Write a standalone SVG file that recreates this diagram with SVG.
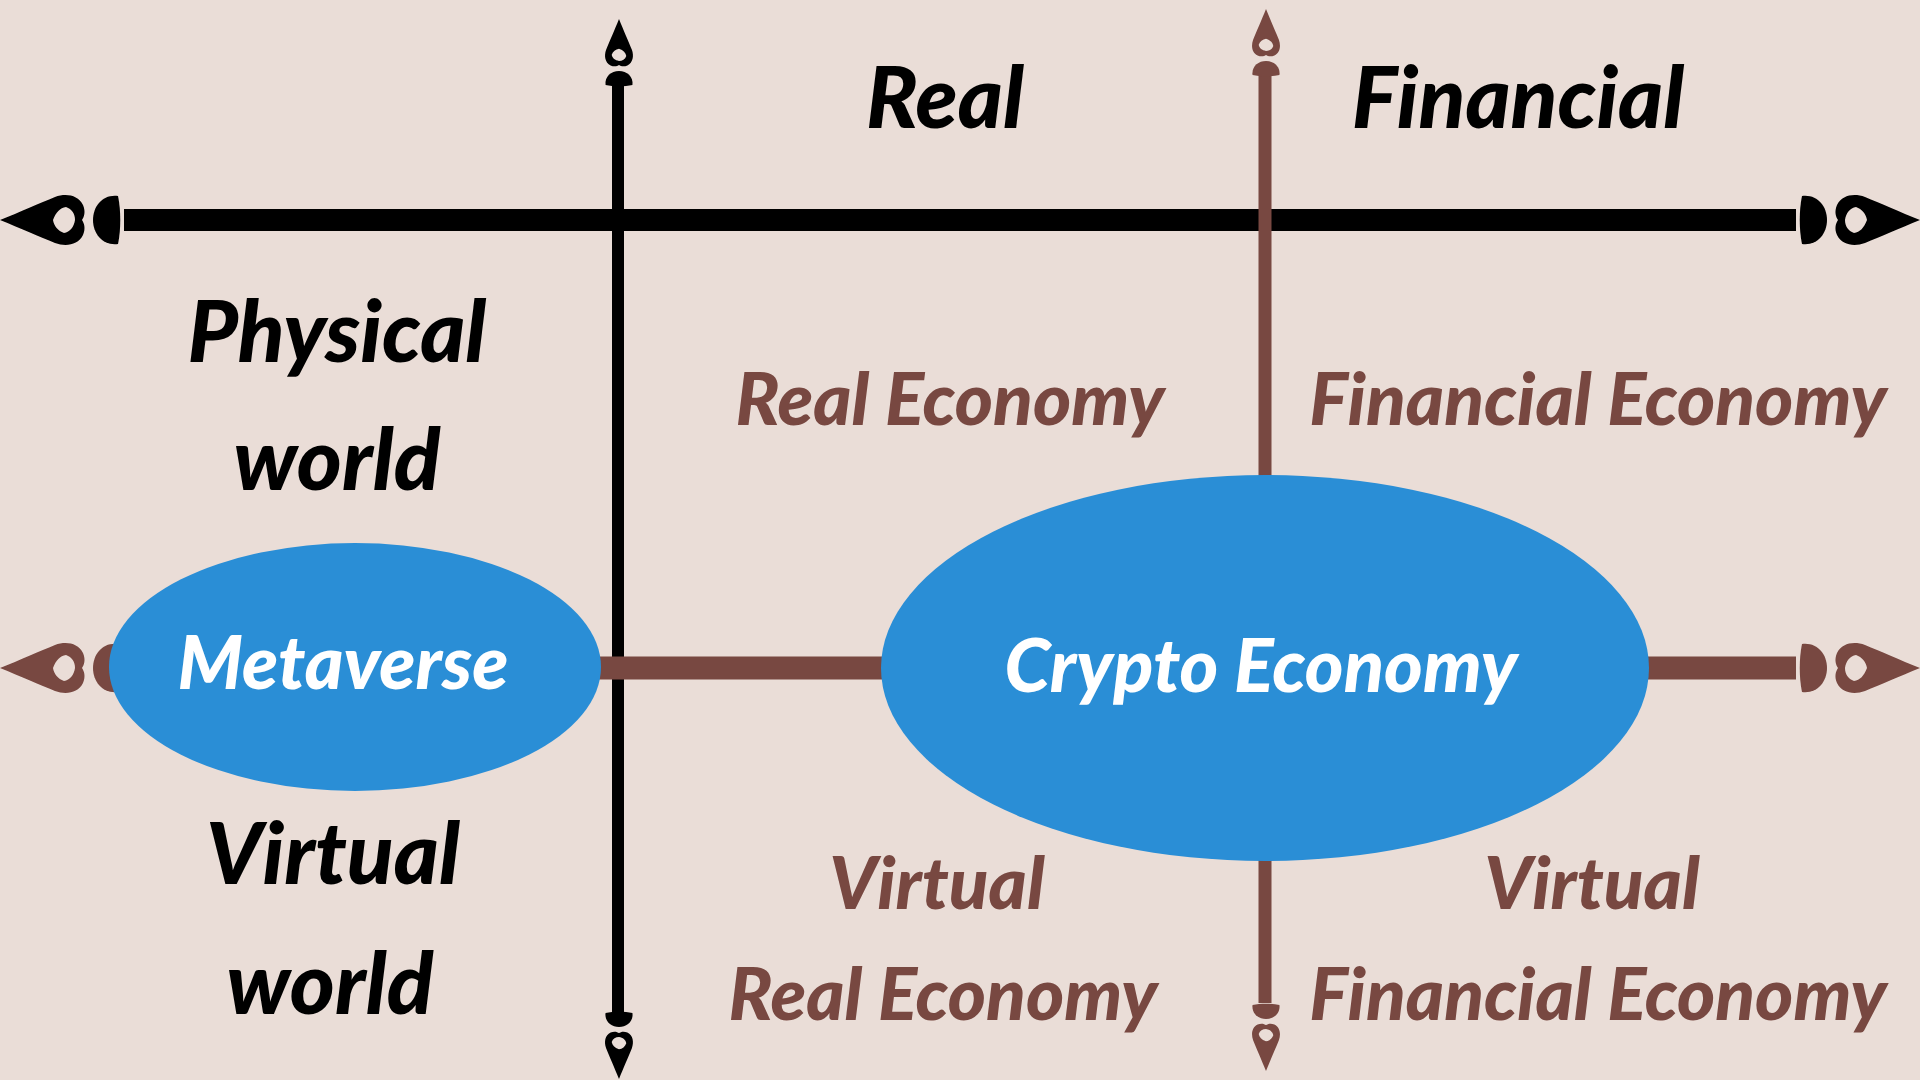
<svg xmlns="http://www.w3.org/2000/svg" xmlns:xlink="http://www.w3.org/1999/xlink" width="1920" height="1080" viewBox="0 0 1920 1080">
<defs>
<style>
.bg{fill:#EADDD7}
.blk{fill:#000000}
.brn{fill:#784841}
.lblk{stroke:#000000;fill:none}
.lbrn{stroke:#784841;fill:none}
.ell{fill:#2A8ED6}
text{font-family:"Lato","DejaVu Sans",sans-serif;font-weight:900;font-style:italic;text-anchor:middle}
.tb{fill:#000000;font-size:86px}
.tr{fill:#784841;font-size:73px}
.tw{fill:#FFFFFF;font-size:74px}
</style>
<symbol id="head" overflow="visible">
<path fill-rule="evenodd" d="M0,0 C20,-8 40,-17 55,-23 C66,-27 78,-25 83,-15 C86,-8 84,-3 82,0 C84,3 86,8 83,15 C78,25 66,27 55,23 C40,17 20,8 0,0 Z M53,0 C56,-8 60,-12 66,-13 C72,-11 75,-6 75,0 C74,7 70,12 64,13 C58,11 54,6 53,0 Z"/>
<path d="M118,-24 C103,-26 93,-14 93,0 C93,14 103,26 118,24 C121,10 121,-10 118,-24 Z"/>
</symbol>
</defs>
<rect class="bg" x="0" y="0" width="1920" height="1080"/>
<g id="connectors">
<line class="lblk" x1="124" y1="220" x2="1796" y2="220" stroke-width="22"/>
<line class="lblk" x1="618" y1="86" x2="618" y2="1012" stroke-width="12"/>
<line class="lbrn" x1="124" y1="668" x2="1796" y2="668" stroke-width="23"/>
<line class="lbrn" x1="1265" y1="76" x2="1265" y2="1003" stroke-width="13"/>
<use class="blk" xlink:href="#head" href="#head" transform="translate(0,220)"/>
<use class="blk" xlink:href="#head" href="#head" transform="translate(1920,220) rotate(180)"/>
<use class="blk" xlink:href="#head" href="#head" transform="translate(619,19) rotate(90) scale(0.56)"/>
<use class="blk" xlink:href="#head" href="#head" transform="translate(619,1079) rotate(-90) scale(0.56)"/>
<use class="brn" xlink:href="#head" href="#head" transform="translate(0,668)"/>
<use class="brn" xlink:href="#head" href="#head" transform="translate(1920,668) rotate(180)"/>
<use class="brn" xlink:href="#head" href="#head" transform="translate(1266,9) rotate(90) scale(0.56)"/>
<use class="brn" xlink:href="#head" href="#head" transform="translate(1266,1071) rotate(-90) scale(0.56)"/>
</g>
<g id="metaverse">
<ellipse class="ell" cx="355" cy="667" rx="246" ry="124"/>
<text class="tw" x="343" y="689">Metaverse</text>
</g>
<g id="crypto-economy">
<ellipse class="ell" cx="1265" cy="668" rx="384" ry="193"/>
<text class="tw" x="1261" y="692">Crypto Economy</text>
</g>
<g id="label-real"><text class="tb" x="945" y="128">Real</text></g>
<g id="label-financial"><text class="tb" x="1518" y="128">Financial</text></g>
<g id="label-physical-world">
<text class="tb" x="337" y="362">Physical</text>
<text class="tb" x="337" y="490">world</text>
</g>
<g id="label-virtual-world">
<text class="tb" x="333" y="884">Virtual</text>
<text class="tb" x="330" y="1014">world</text>
</g>
<g id="real-economy"><text class="tr" x="950" y="425">Real Economy</text></g>
<g id="financial-economy"><text class="tr" x="1598" y="425">Financial Economy</text></g>
<g id="virtual-real-economy">
<text class="tr" x="937" y="909">Virtual</text>
<text class="tr" x="943" y="1020">Real Economy</text>
</g>
<g id="virtual-financial-economy">
<text class="tr" x="1592" y="909">Virtual</text>
<text class="tr" x="1598" y="1020">Financial Economy</text>
</g>
</svg>
